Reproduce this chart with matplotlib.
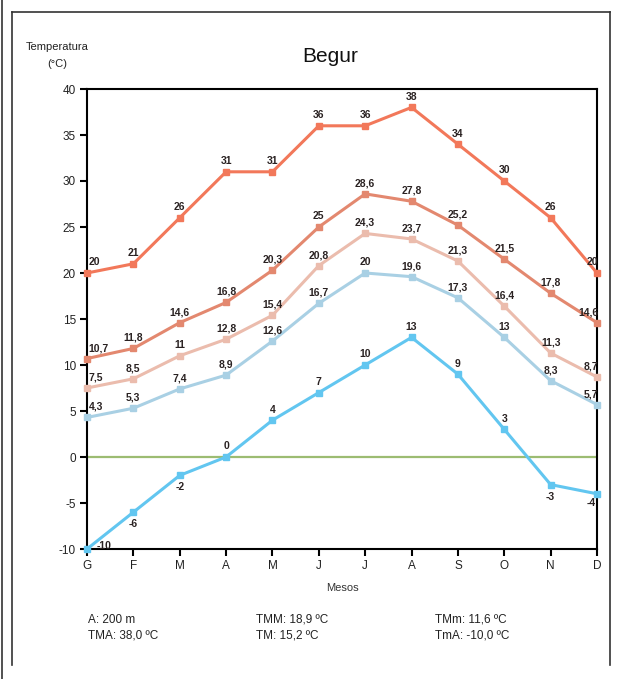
import matplotlib
matplotlib.use("Agg")
import matplotlib.pyplot as plt
from matplotlib.lines import Line2D

plt.rcParams['font.family'] = ['Liberation Sans', 'DejaVu Sans']

months = ['G', 'F', 'M', 'A', 'M', 'J', 'J', 'A', 'S', 'O', 'N', 'D']

abs_max = [20, 21, 26, 31, 31, 36, 36, 38, 34, 30, 26, 20]
mean_max = [10.7, 11.8, 14.6, 16.8, 20.3, 25, 28.6, 27.8, 25.2, 21.5, 17.8, 14.6]
mean_temp = [7.5, 8.5, 11, 12.8, 15.4, 20.8, 24.3, 23.7, 21.3, 16.4, 11.3, 8.7]
mean_min = [4.3, 5.3, 7.4, 8.9, 12.6, 16.7, 20, 19.6, 17.3, 13, 8.3, 5.7]
abs_min = [-10, -6, -2, 0, 4, 7, 10, 13, 9, 3, -3, -4]

yticks = [40, 35, 30, 25, 20, 15, 10, 5, 0, -5, -10]

stats = [
    ("A: 200 m", "TMA: 38,0 \u00baC"),
    ("TMM: 18,9 \u00baC", "TM: 15,2 \u00baC"),
    ("TMm: 11,6 \u00baC", "TmA: -10,0 \u00baC"),
]

series = [
    (abs_max, '#f2785a'),
    (mean_max, '#e3886f'),
    (mean_temp, '#ebbcad'),
    (mean_min, '#a9d0e4'),
    (abs_min, '#62c6f0'),
]

W, H = 624, 679
fig = plt.figure(figsize=(W / 100, H / 100), dpi=100)
ax = fig.add_axes([87 / W, 1 - 549 / H, 510 / W, 460 / H])

x = list(range(len(months)))
ax.axhline(0, color='#9cbc72', lw=1.6, zorder=1)


def fmt(v):
    if float(v).is_integer():
        return str(int(v))
    return ('%.1f' % v).replace('.', ',')


for vals, col in series:
    ax.plot(x, vals, color=col, lw=2.2, marker='s', ms=5, mec=col, mfc=col,
            zorder=3, clip_on=False, solid_joinstyle='round')
    for i, v in enumerate(vals):
        dx, dy, ha, va = 0, 4, 'center', 'bottom'
        if vals is abs_min and v < 0:
            dx, dy, va = 0, -5, 'top'
        if i == 0:
            dx, ha = 1, 'left'
            if vals is abs_min:
                dx, dy, va = 7, 2, 'center'
        if i == len(vals) - 1:
            dx, ha = 1, 'right'
            if vals is abs_min:
                dx, dy = -1, -3
        ax.annotate(fmt(v), (i, v), xytext=(dx, dy), textcoords='offset points',
                    ha=ha, va=va, fontsize=7.5, fontweight='bold', color='#2a2222',
                    zorder=4, annotation_clip=False)

ax.set_xlim(0, len(months) - 1)
ax.set_ylim(-10, 40)
ax.set_xticks(x)
ax.set_xticklabels(months, fontsize=8.5, color='#222222')
ax.set_yticks(yticks)
ax.set_yticklabels([str(t) for t in yticks], fontsize=8.5, color='#222222')
ax.tick_params(axis='both', direction='out', length=5, width=1.5, pad=3)
for s in ax.spines.values():
    s.set_linewidth(1.5)
    s.set_color('black')
ax.set_xlabel('Mesos', fontsize=8, color='#333333', labelpad=8)

fig.text(57 / W, 1 - 47 / H, 'Temperatura', fontsize=8, ha='center', va='center', color='#222222')
fig.text(57 / W, 1 - 64 / H, '(\u00b0C)', fontsize=8, ha='center', va='center', color='#222222')
fig.text(330 / W, 1 - 57 / H, 'Begur', fontsize=15, ha='center', va='center', color='#111111')

cols_x = [88, 256, 435]
for cx, (l1, l2) in zip(cols_x, stats):
    fig.text(cx / W, 1 - 620 / H, l1, fontsize=8.5, ha='left', va='center', color='#222222')
    fig.text(cx / W, 1 - 635 / H, l2, fontsize=8.5, ha='left', va='center', color='#222222')

# outer frame
def fl(x0, y0, x1, y1, lw=1.2):
    fig.add_artist(Line2D([x0 / W, x1 / W], [1 - y0 / H, 1 - y1 / H],
                          color='#333333', lw=lw, transform=fig.transFigure))

fl(2, 0, 2, 679)
fl(12, 12, 12, 665)
fl(12, 12, 610, 12)
fl(610, 12, 610, 665)

fig.savefig('out.png', dpi=100, facecolor='white')
